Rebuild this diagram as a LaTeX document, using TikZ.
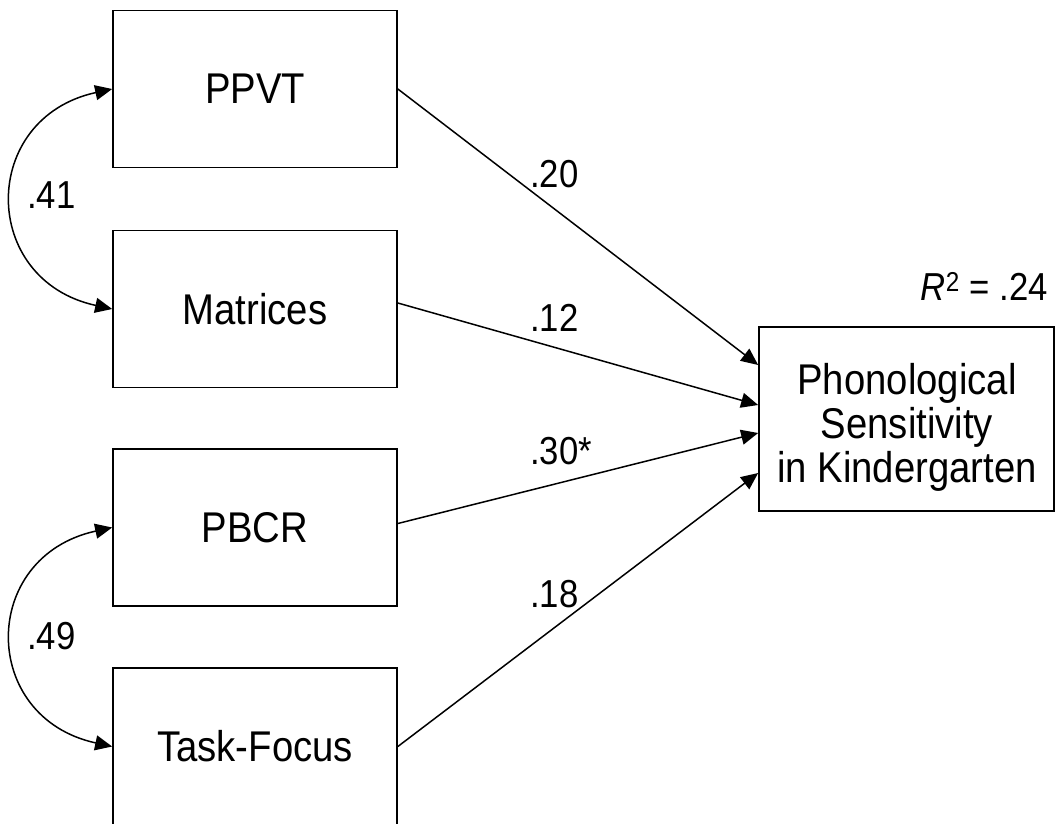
\documentclass[tikz,border=0pt]{standalone}
\usepackage{fontspec}
\setmainfont{Liberation Sans}[FakeStretch=0.89]
\usetikzlibrary{arrows.meta,calc}
\begin{document}
\begin{tikzpicture}[x=1pt,y=-1pt,
  varbox/.style={draw=black,line width=1.7pt,rectangle,minimum width=284pt,minimum height=157pt,
    inner sep=0pt,font=\fontsize{43}{48}\selectfont},
  outbox/.style={draw=black,line width=1.7pt,rectangle,minimum width=295pt,minimum height=184pt,
    inner sep=0pt},
  boxtext/.style={align=center,inner sep=0pt,font=\fontsize{43}{44}\selectfont},
  coef/.style={font=\fontsize{39}{44}\selectfont,inner sep=0pt},
  path/.style={line width=1.5pt,-{Triangle[length=17pt,width=15pt]}},
  covar/.style={line width=1.5pt,{Triangle[length=17pt,width=15pt]}-{Triangle[length=17pt,width=15pt]}}]
\useasboundingbox (0,0) rectangle (1055,823);
% predictors
\node[varbox] (ppvt) at (255,89) {PPVT};
\node[varbox] (mat) at (255,309) {Matrices};
\node[varbox] (pbcr) at (255,527.5) {PBCR};
\node[varbox] (task) at (255,746.5) {Task-Focus};
% outcome
\node[outbox] (out) at (906.5,419) {};
\node[boxtext] (outtext) at (907,427) {Phonological\\Sensitivity\\in Kindergarten};
\node[coef,anchor=east] (r2) at (1048,286) {\textit{R}\textsuperscript{2} = .24};
% regression paths
\draw[path] (ppvt.east) -- ([yshift=54pt]out.west);
\draw[path] ([yshift=6pt]mat.east) -- ([yshift=14pt]out.west);
\draw[path] ([yshift=4pt]pbcr.east) -- ([yshift=-14pt]out.west);
\draw[path] (task.east) -- ([yshift=-54pt]out.west);
% correlations
\draw[covar] (ppvt.west) .. controls +(-133,29) and +(-133,-29) .. (mat.west);
\draw[covar] (pbcr.west) .. controls +(-133,29) and +(-133,-29) .. (task.west);
% coefficients
\node[coef,anchor=west] (c1) at (530,174) {.20};
\node[coef,anchor=west] (c2) at (530,318) {.12};
\node[coef,anchor=west] (c3) at (530,451) {.30*};
\node[coef,anchor=west] (c4) at (530,594) {.18};
\node[coef,anchor=west] (k1) at (27,195) {.41};
\node[coef,anchor=west] (k2) at (27,636) {.49};
\end{tikzpicture}
\end{document}
